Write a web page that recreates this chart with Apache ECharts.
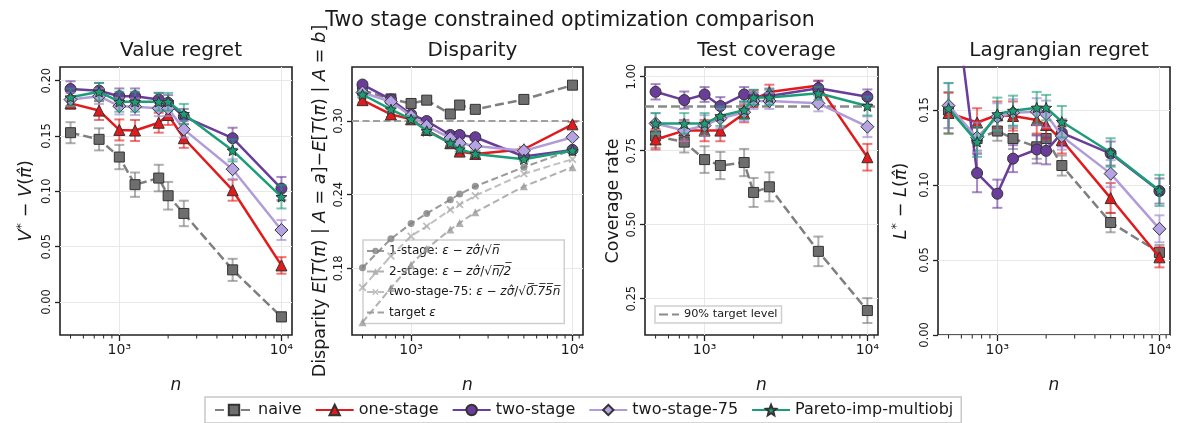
<!DOCTYPE html>
<html><head><meta charset="utf-8">
<script src="https://cdn.jsdelivr.net/npm/echarts@6/dist/echarts.min.js"></script>
<style>html,body{margin:0;padding:0;background:#fff}#c{width:1178px;height:423px}</style>
</head><body><div id="c"></div>
<script>
// ---------------- data ----------------
const nValues = [500, 750, 1000, 1250, 1750, 2000, 2500, 5000, 10000];
const minorTickValues = [500, 600, 700, 800, 900, 2000, 3000, 4000, 5000, 6000, 7000, 8000, 9000, 11000];
const xTickValues = [1000, 10000];
const methodNames = ['naive', 'one-stage', 'two-stage', 'two-stage-75', 'Pareto-imp-multiobj'];
const panelTitles = ['Value regret', 'Disparity', 'Test coverage', 'Lagrangian regret'];

// Value regret
const valueRegretTicks = [0, 0.05, 0.10, 0.15, 0.20];
const valueRegretNaive = [0.153, 0.147, 0.131, 0.106, 0.112, 0.096, 0.080, 0.029, -0.0135];
const valueRegretNaiveErr = [0.0095, 0.010, 0.011, 0.011, 0.012, 0.0125, 0.0115, 0.010, 0.004];
const valueRegretOneStage = [0.1795, 0.173, 0.1555, 0.155, 0.162, 0.169, 0.148, 0.101, 0.033];
const valueRegretOneStageErr = [0.005, 0.0085, 0.0095, 0.0095, 0.009, 0.009, 0.0087, 0.0095, 0.0075];
const valueRegretTwoStage = [0.1925, 0.191, 0.186, 0.186, 0.183, 0.180, 0.1675, 0.148, 0.1025];
const valueRegretTwoStageErr = [0.007, 0.007, 0.007, 0.007, 0.006, 0.007, 0.007, 0.0095, 0.0105];
const valueRegretTwoStage75 = [0.183, 0.186, 0.177, 0.1765, 0.175, 0.175, 0.156, 0.120, 0.065];
const valueRegretTwoStage75Err = [0.006, 0.007, 0.0075, 0.0075, 0.007, 0.007, 0.0075, 0.009, 0.009];
const valueRegretPareto = [0.185, 0.190, 0.181, 0.181, 0.181, 0.181, 0.170, 0.137, 0.095];
const valueRegretParetoErr = [0.008, 0.008, 0.009, 0.009, 0.008, 0.008, 0.009, 0.010, 0.0105];

// Disparity
const disparityTicks = [0.18, 0.24, 0.30];
const disparityNaive = [0.325, 0.318, 0.3143, 0.317, 0.3057, 0.313, 0.3095, 0.3176, 0.3292];
const disparityNaiveErr = [0.002, 0.002, 0.0025, 0.0025, 0.0025, 0.0025, 0.0025, 0.002, 0.0015];
const disparityOneStage = [0.317, 0.3054, 0.3014, 0.2927, 0.2819, 0.2751, 0.2732, 0.277, 0.2973];
const disparityOneStageErr = [0.002, 0.002, 0.0025, 0.002, 0.002, 0.002, 0.002, 0.002, 0.002];
const disparityTwoStage = [0.3297, 0.3176, 0.3054, 0.300, 0.2886, 0.2886, 0.2868, 0.2711, 0.2765];
const disparityTwoStageErr = [0.002, 0.002, 0.002, 0.002, 0.002, 0.002, 0.002, 0.002, 0.0015];
const disparityTwoStage75 = [0.3232, 0.3157, 0.3041, 0.296, 0.286, 0.2819, 0.2797, 0.2757, 0.2868];
const disparityTwoStage75Err = [0.002, 0.002, 0.002, 0.002, 0.002, 0.002, 0.002, 0.002, 0.0015];
const disparityPareto = [0.3216, 0.3095, 0.3014, 0.2919, 0.2819, 0.277, 0.2732, 0.2689, 0.276];
const disparityParetoErr = [0.002, 0.002, 0.0025, 0.002, 0.002, 0.002, 0.002, 0.0015, 0.0015];
const boundOneStage = [0.1805, 0.204, 0.2165, 0.2246, 0.2359, 0.2405, 0.2468, 0.2624, 0.2765];
const boundTwoStage = [0.136, 0.164, 0.183, 0.196, 0.2116, 0.217, 0.2257, 0.2468, 0.2624];
const boundTwoStage75 = [0.1643, 0.190, 0.2062, 0.2143, 0.2278, 0.2319, 0.2392, 0.257, 0.2689];
const targetEpsilon = 0.30;

// Test coverage
const coverageTicks = [0.25, 0.50, 0.75, 1.00];
const coverageNaive = [0.80, 0.779, 0.72, 0.70, 0.71, 0.609, 0.628, 0.41, 0.21];
const coverageNaiveErr = [0.04, 0.035, 0.045, 0.046, 0.046, 0.049, 0.049, 0.05, 0.042];
const coverageOneStage = [0.788, 0.818, 0.818, 0.818, 0.876, 0.923, 0.948, 0.97, 0.728];
const coverageOneStageErr = [0.034, 0.036, 0.036, 0.036, 0.03, 0.025, 0.025, 0.017, 0.045];
const coverageTwoStage = [0.949, 0.921, 0.94, 0.901, 0.94, 0.93, 0.935, 0.961, 0.932];
const coverageTwoStageErr = [0.026, 0.029, 0.025, 0.03, 0.025, 0.025, 0.025, 0.024, 0.025];
const coverageTwoStage75 = [0.842, 0.818, 0.835, 0.859, 0.88, 0.918, 0.918, 0.91, 0.831];
const coverageTwoStage75Err = [0.035, 0.036, 0.035, 0.033, 0.03, 0.027, 0.027, 0.027, 0.035];
const coveragePareto = [0.842, 0.842, 0.842, 0.867, 0.887, 0.93, 0.93, 0.944, 0.901];
const coverageParetoErr = [0.035, 0.035, 0.035, 0.033, 0.03, 0.026, 0.026, 0.022, 0.032];
const targetCoverage = 0.90;

// Lagrangian regret
const lagrangianTicks = [0, 0.05, 0.10, 0.15];
const lagrangianNaive = [0.150, 0.131, 0.136, 0.131, 0.1255, 0.131, 0.113, 0.075, 0.055];
const lagrangianNaiveErr = [0.012, 0.008, 0.0065, 0.007, 0.008, 0.008, 0.0067, 0.0065, 0.005];
const lagrangianOneStage = [0.148, 0.1417, 0.1467, 0.146, 0.1433, 0.140, 0.130, 0.0913, 0.0518];
const lagrangianOneStageErr = [0.0135, 0.0095, 0.009, 0.0097, 0.009, 0.009, 0.009, 0.010, 0.0067];
const lagrangianTwoStage = [0.26, 0.108, 0.0942, 0.1176, 0.1237, 0.1228, 0.1348, 0.121, 0.096];
const lagrangianTwoStageErr = [0.015, 0.0128, 0.0094, 0.009, 0.0093, 0.009, 0.009, 0.008, 0.0084];
const lagrangianTwoStage75 = [0.1529, 0.1317, 0.1455, 0.1482, 0.1489, 0.1473, 0.1326, 0.1076, 0.0708];
const lagrangianTwoStage75Err = [0.015, 0.010, 0.009, 0.009, 0.009, 0.009, 0.009, 0.009, 0.009];
const lagrangianPareto = [0.1511, 0.1288, 0.1473, 0.1496, 0.1516, 0.1516, 0.1422, 0.1217, 0.0964];
const lagrangianParetoErr = [0.017, 0.010, 0.011, 0.010, 0.0105, 0.0085, 0.0105, 0.0095, 0.0104];

// ---------------- layout & style ----------------
const FONT = 'DejaVu Sans';
const X_MIN = 430.5, X_MAX = 11620;
const STAR = 'path://M0,-10L2.6,-3.6L9.5,-3.1L4.2,1.4L5.9,8.1L0,4.4L-5.9,8.1L-4.2,1.4L-9.5,-3.1L-2.6,-3.6Z';
const XMARK = 'path://M-5,-3.4L-3.4,-5L0,-1.6L3.4,-5L5,-3.4L1.6,0L5,3.4L3.4,5L0,1.6L-3.4,5L-5,3.4L-1.6,0Z';
const methodStyles = [
  {color: '#7f7f7f', fill: '#6e6e6e', err: 'rgba(120,120,120,0.6)', symbol: 'rect', size: 10, dash: [9, 4]},
  {color: '#e31a1c', fill: '#e31a1c', err: 'rgba(227,26,28,0.6)', symbol: 'triangle', size: 11, dash: 'solid'},
  {color: '#6a3d9a', fill: '#6a3d9a', err: 'rgba(106,61,154,0.6)', symbol: 'circle', size: 11, dash: 'solid'},
  {color: '#b19cd9', fill: '#b6a3e3', err: 'rgba(160,140,210,0.65)', symbol: 'diamond', size: 13, dash: 'solid'},
  {color: '#1b9e77', fill: '#1b9e77', err: 'rgba(27,158,119,0.6)', symbol: STAR, size: 11, dash: 'solid'}
];
const grids = [
  {left: 60, top: 67, width: 232, height: 268},
  {left: 352, top: 67, width: 231, height: 268},
  {left: 645, top: 67, width: 233, height: 268},
  {left: 938, top: 67, width: 232, height: 268}
];
const panels = [
  {ticks: valueRegretTicks, yMin: -0.0299, yMax: 0.2124, nameGap: 23,
   name: '{i|V}{s|*} − {i|V}({i|π̂})',
   data: [[valueRegretNaive, valueRegretNaiveErr], [valueRegretOneStage, valueRegretOneStageErr],
          [valueRegretTwoStage, valueRegretTwoStageErr], [valueRegretTwoStage75, valueRegretTwoStage75Err],
          [valueRegretPareto, valueRegretParetoErr]]},
  {ticks: disparityTicks, yMin: 0.1257, yMax: 0.344, nameGap: 23,
   name: 'Disparity {i|E}[{i|T}({i|π}) | {i|A} = {i|a}]−{i|E}[{i|T}({i|π}) | {i|A} = {i|b}]',
   data: [[disparityNaive, disparityNaiveErr], [disparityOneStage, disparityOneStageErr],
          [disparityTwoStage, disparityTwoStageErr], [disparityTwoStage75, disparityTwoStage75Err],
          [disparityPareto, disparityParetoErr]]},
  {ticks: coverageTicks, yMin: 0.1274, yMax: 1.0328, nameGap: 23,
   name: 'Coverage rate',
   data: [[coverageNaive, coverageNaiveErr], [coverageOneStage, coverageOneStageErr],
          [coverageTwoStage, coverageTwoStageErr], [coverageTwoStage75, coverageTwoStage75Err],
          [coveragePareto, coverageParetoErr]]},
  {ticks: lagrangianTicks, yMin: 0, yMax: 0.1787, nameGap: 26,
   name: '{i|L}{s|*} − {i|L}({i|π̂})',
   data: [[lagrangianNaive, lagrangianNaiveErr], [lagrangianOneStage, lagrangianOneStageErr],
          [lagrangianTwoStage, lagrangianTwoStageErr], [lagrangianTwoStage75, lagrangianTwoStage75Err],
          [lagrangianPareto, lagrangianParetoErr]]}
];

const SUP = {3: '³', 4: '⁴'};
const nameRich = {
  i: {fontStyle: 'italic', fontSize: 18, fontFamily: FONT, color: '#1a1a1a'},
  s: {fontSize: 13, fontFamily: FONT, color: '#1a1a1a', verticalAlign: 'top', padding: [0, 0, 9, 0]}
};

function errRenderer(color) {
  return function (params, api) {
    const x = api.value(0);
    const p1 = api.coord([x, api.value(1)]);
    const p2 = api.coord([x, api.value(2)]);
    const w = 5;
    const st = {stroke: color, lineWidth: 2};
    return {type: 'group', children: [
      {type: 'line', shape: {x1: p1[0], y1: p1[1], x2: p2[0], y2: p2[1]}, style: st},
      {type: 'line', shape: {x1: p1[0] - w, y1: p1[1], x2: p1[0] + w, y2: p1[1]}, style: st},
      {type: 'line', shape: {x1: p2[0] - w, y1: p2[1], x2: p2[0] + w, y2: p2[1]}, style: st}
    ]};
  };
}

const xAxes = [], yAxes = [], series = [], titles = [];
titles.push({text: 'Two stage constrained optimization comparison', left: 565, top: 5, textAlign: 'center',
  textStyle: {fontFamily: FONT, fontSize: 20.5, fontWeight: 'normal', color: '#1a1a1a'}});

panels.forEach((p, i) => {
  const g = grids[i];
  titles.push({text: panelTitles[i], left: g.left + g.width / 2, top: 36, textAlign: 'center',
    textStyle: {fontFamily: FONT, fontSize: 20, fontWeight: 'normal', color: '#1a1a1a'}});
  xAxes.push({
    type: 'log', logBase: 10, gridIndex: i, min: X_MIN, max: X_MAX,
    name: 'n', nameLocation: 'middle', nameGap: 42,
    nameTextStyle: {fontStyle: 'italic', fontSize: 17, fontFamily: FONT, color: '#1a1a1a'},
    axisLine: {show: false, onZero: false},
    axisTick: {show: true, length: 6, customValues: xTickValues, lineStyle: {color: '#222', width: 1.3}},
    axisLabel: {customValues: xTickValues, formatter: v => '10' + SUP[Math.round(Math.log10(v))],
      fontFamily: FONT, fontSize: 14, color: '#1a1a1a', margin: 8},
    splitLine: {show: true, lineStyle: {color: '#e8e8e8', width: 1}}
  });
  yAxes.push({
    type: 'value', gridIndex: i, min: p.yMin, max: p.yMax,
    name: p.name, nameLocation: 'middle', nameGap: p.nameGap, nameRotate: 90,
    nameTextStyle: {fontFamily: FONT, fontSize: 17.5, color: '#1a1a1a', rich: nameRich},
    axisLine: {show: false, onZero: false},
    axisTick: {show: true, length: 5, customValues: p.ticks, lineStyle: {color: '#222', width: 1.3}},
    axisLabel: {customValues: p.ticks, rotate: 90, formatter: v => v.toFixed(2),
      fontFamily: FONT, fontSize: 11.5, color: '#1a1a1a', margin: 7},
    splitLine: {show: true, lineStyle: {color: '#e8e8e8', width: 1}}
  });
  // minor ticks on log x axis
  series.push({
    type: 'custom', xAxisIndex: i, yAxisIndex: i, silent: true, clip: false, z: 1,
    data: minorTickValues.map(v => [v, p.yMin]),
    renderItem: (params, api) => {
      const q = api.coord([api.value(0), api.value(1)]);
      return {type: 'line', shape: {x1: q[0], y1: q[1], x2: q[0], y2: q[1] + 3.5},
        style: {stroke: '#222', lineWidth: 1}};
    }
  });
  p.data.forEach((pair, m) => {
    const st = methodStyles[m];
    const vals = pair[0], err = pair[1];
    series.push({
      type: 'custom', name: methodNames[m] + ' err', xAxisIndex: i, yAxisIndex: i,
      silent: true, clip: true, z: 10 + 2 * m,
      data: nValues.map((n, k) => [n, vals[k] - err[k], vals[k] + err[k]]),
      encode: {x: 0, y: [1, 2]},
      renderItem: errRenderer(st.err)
    });
    series.push({
      type: 'line', name: methodNames[m], xAxisIndex: i, yAxisIndex: i,
      data: nValues.map((n, k) => [n, vals[k]]),
      symbol: st.symbol, symbolSize: st.size, symbolKeepAspect: true, showSymbol: true,
      clip: true, z: 11 + 2 * m, silent: true,
      lineStyle: {color: st.color, width: 2.5, type: st.dash},
      itemStyle: {color: st.fill, borderColor: '#333', borderWidth: 1},
      emphasis: {disabled: true}
    });
  });
});

// Disparity panel extra lines
const boundDefs = [
  ['bound1', boundOneStage, 'circle', 7, 'rgba(128,128,128,0.8)'],
  ['bound2', boundTwoStage, 'triangle', 8, 'rgba(150,150,150,0.75)'],
  ['bound75', boundTwoStage75, XMARK, 8, 'rgba(175,175,175,0.8)']
];
boundDefs.forEach((b, k) => {
  series.push({
    type: 'line', name: b[0], xAxisIndex: 1, yAxisIndex: 1,
    data: nValues.map((n, j) => [n, b[1][j]]),
    symbol: b[2], symbolSize: b[3], symbolKeepAspect: true, clip: true, z: 5 + k, silent: true,
    lineStyle: {color: b[4], width: 2, type: [7, 3.5]},
    itemStyle: {color: b[4], borderWidth: 0},
    emphasis: {disabled: true}
  });
});
series.push({
  type: 'line', name: 'targetEps', xAxisIndex: 1, yAxisIndex: 1, data: [], z: 4, silent: true,
  lineStyle: {color: '#a0a0a0', width: 2, type: [7, 3.5]}, itemStyle: {color: '#a0a0a0', opacity: 0}, symbol: 'none',
  markLine: {silent: true, symbol: ['none', 'none'], label: {show: false},
    lineStyle: {color: '#a0a0a0', width: 2, type: [7, 3.5]}, data: [{yAxis: targetEpsilon}]}
});
series.push({
  type: 'line', name: 'targetCov', xAxisIndex: 2, yAxisIndex: 2, data: [], z: 4, silent: true,
  lineStyle: {color: '#8a8a8a', width: 2.5, type: [9, 4]}, itemStyle: {color: '#8a8a8a', opacity: 0}, symbol: 'none',
  markLine: {silent: true, symbol: ['none', 'none'], label: {show: false},
    lineStyle: {color: '#8a8a8a', width: 2.5, type: [9, 4]}, data: [{yAxis: targetCoverage}]}
});

const mathRich = {m: {fontStyle: 'italic', fontFamily: FONT, fontSize: 12, color: '#1a1a1a'}};
const boundLabels = {
  bound1: '1-stage: {m|ε} − {m|zσ̂}/√{m|n̅}',
  bound2: '2-stage: {m|ε} − {m|zσ̂}/√{m|n̅/̅2̅}',
  bound75: 'two-stage-75: {m|ε} − {m|zσ̂}/√{m|0̅.̅7̅5̅n̅}',
  targetEps: 'target {m|ε}',
  targetCov: '90% target level'
};
const hidden = {opacity: 0};

const option = {
  animation: false,
  backgroundColor: '#fff',
  title: titles,
  grid: grids.map(g => Object.assign({show: true, borderColor: '#222', borderWidth: 1.6, backgroundColor: 'transparent'}, g)),
  xAxis: xAxes,
  yAxis: yAxes,
  legend: [
    {data: methodNames, left: 205, top: 397, selectedMode: false, itemWidth: 38, itemHeight: 13, itemGap: 13,
     padding: [5, 8, 5, 9], borderColor: '#c8c8c8', borderWidth: 1.5, borderRadius: 0,
     textStyle: {fontFamily: FONT, fontSize: 16, color: '#1a1a1a'}},
    {data: ['bound1', 'bound2', 'bound75', {name: 'targetEps', itemStyle: hidden}], orient: 'vertical', left: 363, top: 240,
     selectedMode: false, itemWidth: 17, itemHeight: 8, itemGap: 8.5, padding: [5, 4, 5, 3],
     borderColor: '#cfcfcf', borderWidth: 1.5, backgroundColor: 'rgba(255,255,255,0.85)',
     formatter: name => boundLabels[name],
     textStyle: {fontFamily: FONT, fontSize: 12, color: '#1a1a1a', rich: mathRich}},
    {data: [{name: 'targetCov', itemStyle: hidden}], left: 655, top: 306, selectedMode: false, itemWidth: 20, itemHeight: 8,
     padding: [3, 4, 3, 3], borderColor: '#cfcfcf', borderWidth: 1.5, backgroundColor: 'rgba(255,255,255,0.85)',
     formatter: name => boundLabels[name],
     textStyle: {fontFamily: FONT, fontSize: 11.3, color: '#1a1a1a'}}
  ],
  series: series
};

const chart = echarts.init(document.getElementById('c'), null, {renderer: 'canvas'});
chart.setOption(option);
</script>
</body></html>
